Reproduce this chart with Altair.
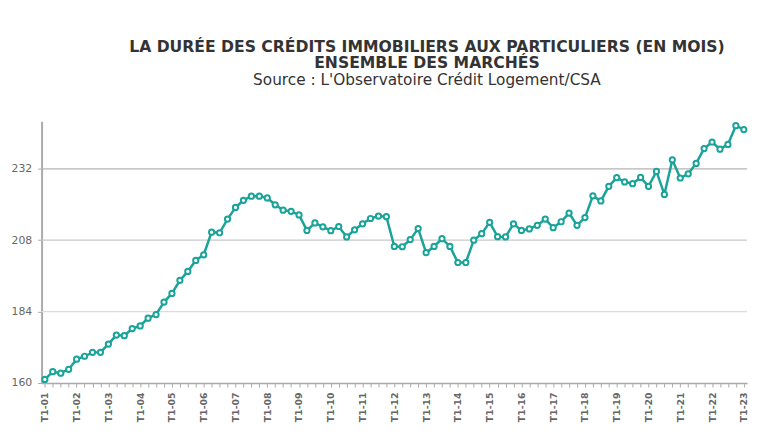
import altair as alt
import pandas as pd

years = ["01", "02", "03", "04", "05", "06", "07", "08", "09", "10", "11", "12",
         "13", "14", "15", "16", "17", "18", "19", "20", "21", "22", "23"]
quarters = ["T1", "T2", "T3", "T4"]

durees = [
    161.2, 163.8, 163.3, 164.6, 168.0, 169.0, 170.3, 170.3,
    173.1, 176.1, 175.9, 178.3, 179.2, 181.8, 183.0, 187.2,
    190.1, 194.5, 197.5, 201.2, 203.1, 210.7, 210.5, 215.1,
    219.0, 221.4, 222.8, 222.8, 222.2, 219.9, 218.1, 217.7,
    216.5, 211.3, 213.8, 212.5, 211.2, 212.6, 209.1, 211.5,
    213.5, 215.3, 216.1, 215.9, 205.9, 205.8, 208.2, 211.9,
    203.8, 205.9, 208.5, 205.9, 200.5, 200.5, 208.0, 210.2,
    214.0, 209.2, 209.1, 213.5, 211.3, 211.8, 213.0, 215.1,
    212.2, 214.2, 217.1, 213.0, 215.6, 222.9, 221.2, 226.1,
    229.0, 227.6, 227.0, 229.1, 226.1, 231.1, 223.4, 235.0,
    228.9, 230.3, 233.8, 238.8, 241.0, 238.6, 240.2, 246.5,
    245.2,
]

y_ticks = [160, 172, 184, 196, 208, 220, 232, 244]
grid_values = [184, 208, 232]
grid_colors = ["#dcdcdc", "#c8c8c8", "#b4b4b4"]

periods = [f"{q}-{y}" for y in years for q in quarters][: len(durees)]

df = pd.DataFrame({"periode": periods, "duree": durees})
grid_df = pd.DataFrame({"g": grid_values})

TEAL = "#19a399"

x_enc = alt.X(
    "periode:O",
    sort=periods,
    scale=alt.Scale(type="point", padding=0.41),
    axis=alt.Axis(
        title=None,
        labelAngle=270,
        labelExpr="indexof(datum.label, 'T1') == 0 ? datum.label : ''",
        labelOverlap=False,
        labelFont="DejaVu Sans",
        labelFontSize=9.5,
        labelFontWeight="bold",
        labelColor="#666666",
        labelPadding=5,
        tickSize=4,
        tickColor="#aaaaaa",
        domainColor="#aaaaaa",
        domainWidth=1.5,
        grid=False,
    ),
)

y_scale = alt.Scale(domain=[160, 248], nice=False, zero=False)

grid = alt.Chart(grid_df).mark_rule(strokeWidth=1.2).encode(
    y=alt.Y("g:Q", scale=y_scale),
    color=alt.Color("g:O", scale=alt.Scale(domain=grid_values, range=grid_colors), legend=None),
)

base = alt.Chart(df).encode(
    x=x_enc,
    y=alt.Y(
        "duree:Q",
        scale=y_scale,
        axis=alt.Axis(
            title=None,
            values=y_ticks,
            labelExpr="(datum.value - 160) % 24 == 0 ? datum.label : ''",
            labelFont="DejaVu Sans",
            labelFontSize=11,
            labelColor="#666666",
            labelPadding=6,
            tickSize=4,
            tickColor="#aaaaaa",
            domainColor="#aaaaaa",
            domainWidth=2,
            grid=False,
        ),
    ),
)

line = base.mark_line(color=TEAL, strokeWidth=2.5)
points = base.mark_point(
    shape="circle", size=28, filled=False, fill="white", fillOpacity=1,
    stroke=TEAL, strokeWidth=2, opacity=1,
)

chart = (
    alt.layer(grid, line, points)
    .properties(
        width=714,
        height=265,
        padding={"left": 3, "right": 2, "top": 28, "bottom": 5},
        title=alt.TitleParams(
            text=[
                "LA DURÉE DES CRÉDITS IMMOBILIERS AUX PARTICULIERS (EN MOIS)",
                "ENSEMBLE DES MARCHÉS",
            ],
            subtitle="Source : L'Observatoire Crédit Logement/CSA",
            anchor="middle",
            dx=33,
            font="DejaVu Sans",
            fontSize=15.8,
            fontWeight="bold",
            color="#333333",
            lineHeight=17,
            subtitleFont="DejaVu Sans",
            subtitleFontSize=15.5,
            subtitleColor="#333333",
            subtitlePadding=1,
            offset=30,
        ),
    )
    .configure_view(stroke=None)
)

chart.save("out.html", embed_options={"renderer": "svg", "actions": False})
